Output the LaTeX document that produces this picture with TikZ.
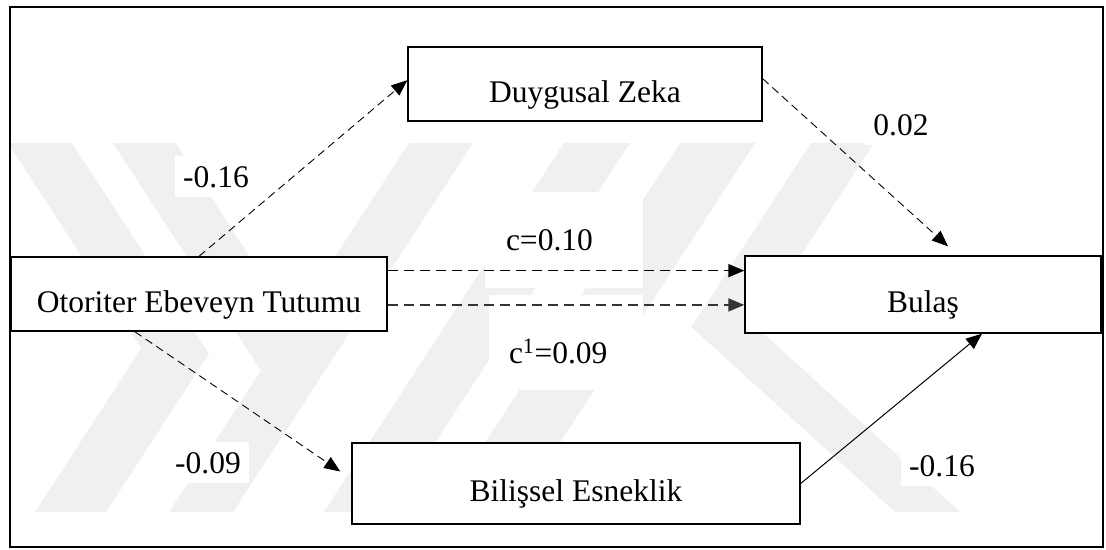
\documentclass[tikz,border=0pt]{standalone}
\usepackage{fontspec}
\setmainfont{Liberation Serif}
\usetikzlibrary{arrows.meta,calc}
\tikzset{
  box/.style={draw=black,line width=1.4pt,fill=white,rectangle,inner sep=0pt,
    text height=36pt,text depth=0pt,font=\fontsize{31.5}{36}\selectfont},
  lbl/.style={fill=white,inner xsep=8pt,inner ysep=10pt,anchor=base,
    font=\fontsize{31.5}{36}\selectfont},
  arr/.style={-{Triangle[length=16pt,width=13pt]}},
  dsh/.style={arr,line width=0.9pt,dash pattern=on 8pt off 5pt},
  hdsh/.style={arr,line width=1.7pt,dash pattern=on 10pt off 6pt},
  wm/.style={fill=black!6,draw=none}
}
\begin{document}
\begin{tikzpicture}[x=1pt,y=-1pt]
\useasboundingbox (0,0) rectangle (1106,549);
\fill[white] (0,0) rectangle (1106,549);
% watermark
\fill[wm] (8,143) -- (72,143) -- (209,353.7) -- (106,512) -- (35,512) -- (141.4,348.3) -- cycle;
\fill[wm] (113,143) -- (176,143) -- (292,322) -- (261,370.6) -- cycle;
\fill[wm] (169,512) -- (233,512) -- (473,143) -- (409,143) -- cycle;
\fill[wm] (324,512) -- (390,512) -- (630,143) -- (564,143) -- cycle;
\fill[wm] (440,512) -- (515,512) -- (755,143) -- (680,143) -- cycle;
\fill[wm] (811,143) -- (874,143) -- (755,325.8) -- (960,512) -- (895,512) -- (691.4,327) -- cycle;
% labels
\node[lbl] (l1) at (216,187) {-0.16};
\node[lbl] (l2) at (901,135) {0.02};
\node[lbl,text width=116pt,inner xsep=21pt,inner ysep=0pt,text height=58pt,text depth=38pt,align=left] (l3) at (564,250) {c=0.10};
\node[lbl,text width=114pt,inner xsep=20pt,inner ysep=0pt,text height=68pt,text depth=27pt,align=left] (l4) at (566,363) {c\textsuperscript{1}=0.09};
\node[lbl] (l5) at (208,473) {-0.09};
\node[lbl] (l6) at (942,476) {-0.16};
% boxes
\node[box,minimum width=354pt,minimum height=74pt] (du) at (585,84) {Duygusal Zeka};
\node[box,minimum width=376pt,minimum height=74pt] (ot) at (199,294) {Otoriter Ebeveyn Tutumu};
\node[box,minimum width=356pt,minimum height=77pt] (bu) at (923,294.5) {Bulaş};
\node[box,minimum width=448pt,minimum height=81pt] (bi) at (576,483.5) {Bilişsel Esneklik};
% connectors
\draw[dsh] (ot.north) -- ($(du.north west)!0.45!(du.south west)$);
\draw[dsh] ($(du.north east)!0.43!(du.south east)$) -- ($(bu.north)+(25,-9)$);
\coordinate (h1) at ($(ot.north east)!0.19!(ot.south east)$);
\coordinate (h2) at ($(ot.north east)!0.645!(ot.south east)$);
\draw[hdsh] (h1) -- (h1 -| bu.west);
\draw[hdsh,black!80] (h2) -- (h2 -| bu.west);
\draw[dsh] ($(ot.south west)!0.33!(ot.south east)$) -- ($(bi.west)+(-11,-12)$);
\draw[arr,line width=1pt] (bi.east) -- ($(bu.south west)!0.665!(bu.south east)$);
% frame
\draw[line width=2pt] (10,7) rectangle (1103,547);
\end{tikzpicture}
\end{document}
